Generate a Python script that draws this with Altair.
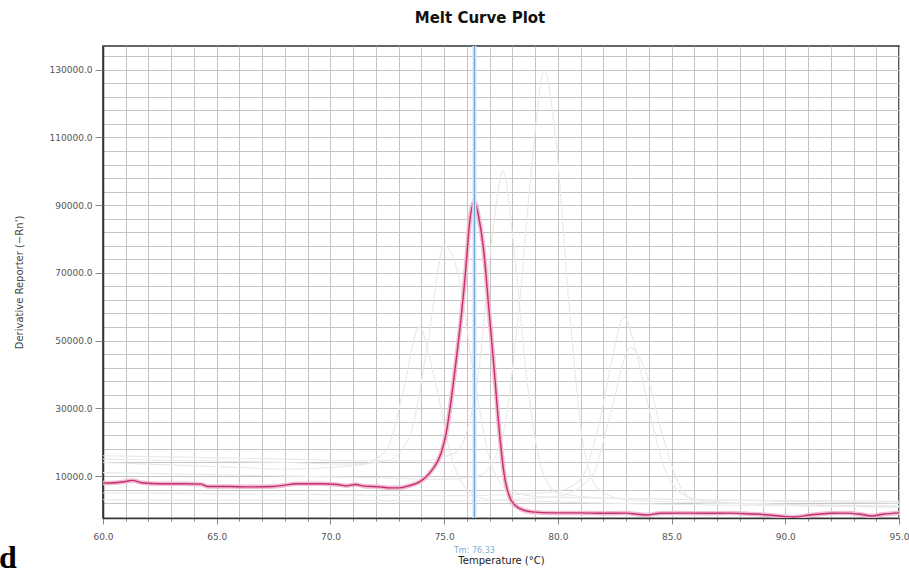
import altair as alt
import pandas as pd

# Selected well: derivative melt curve (temperature in °C, -Rn')
pink_temp = [60.0, 60.5, 61.0, 61.3, 61.7, 62.5, 63.5, 64.3, 64.6, 65.5, 66.5, 67.5, 68.0, 68.5,
             69.5, 70.3, 70.7, 71.1, 71.5, 72.15, 72.6, 73.03, 73.5, 73.9, 74.2, 74.47, 74.87,
             75.09, 75.31, 75.53, 75.75, 75.96, 76.1, 76.33, 76.54, 76.75, 76.97, 77.19, 77.41,
             77.63, 77.94, 78.29, 78.86, 79.74, 80.92, 82.0, 83.0, 83.5, 83.9, 84.5, 85.3, 86.5,
             87.6, 88.5, 89.25, 90.0, 90.4, 91.1, 92.0, 92.6, 93.3, 93.8, 94.3, 95.0]
pink_value = [7900, 8000, 8400, 8700, 8000, 7700, 7700, 7600, 6900, 6900, 6800, 6900, 7300, 7700,
              7700, 7500, 7100, 7500, 7000, 6800, 6500, 6500, 7200, 8200, 9700, 11800, 16800,
              22700, 32500, 44300, 57000, 71800, 83600, 91000, 85700, 75900, 59100, 42200, 24500,
              10900, 2900, 500, -600, -900, -900, -1000, -950, -1300, -1500, -1000, -950, -1000,
              -950, -1200, -1500, -2000, -2100, -1500, -1000, -950, -1300, -1800, -1300, -900]

# Other wells, drawn faintly behind the selected one
ghost_a_temp = [60, 62, 64, 66, 68, 70, 71.5, 72.5, 73.2, 73.9, 74.6, 75.3, 76, 77, 79, 82, 86, 90, 95]
ghost_a_value = [14000, 13500, 13000, 12500, 12000, 12500, 13500, 18000, 35000, 54000, 38000,
                 16000, 6000, 3000, 2500, 2000, 1500, 1200, 1000]

ghost_b_temp = [60, 64, 68, 72, 75, 76.5, 77.5, 78.3, 78.9, 79.4, 79.9, 80.5, 81.1, 81.8, 83, 87, 91, 95]
ghost_b_value = [11000, 10500, 10000, 9500, 9000, 10000, 20000, 60000, 105000, 130000, 110000,
                 60000, 20000, 6000, 3000, 2000, 1500, 1200]

ghost_c_temp = [60, 64, 68, 72, 74, 75.5, 76.5, 77.1, 77.6, 78.1, 78.7, 79.3, 80, 82, 86, 90, 95]
ghost_c_value = [16000, 15500, 15000, 14500, 14500, 17000, 40000, 80000, 100000, 75000, 35000,
                 12000, 5000, 3500, 3000, 2500, 2000]

ghost_d_temp = [60, 65, 70, 75, 78, 80, 81, 81.8, 82.4, 82.9, 83.4, 84, 84.7, 85.4, 86.5, 90, 95]
ghost_d_value = [5000, 4800, 4500, 4200, 4500, 5500, 9000, 25000, 45000, 57000, 48000, 30000,
                 12000, 5000, 2500, 1500, 1000]

ghost_e_temp = [60, 65, 70, 75, 78, 80, 81.5, 82.3, 83.2, 83.9, 84.6, 85.3, 86, 90, 95]
ghost_e_value = [3000, 2900, 2800, 2700, 3000, 4000, 10000, 28000, 48000, 40000, 22000, 8000,
                 3000, 1500, 800]

ghost_f_temp = [60, 64, 68, 71, 72.5, 73.5, 74.3, 75.0, 75.6, 76.3, 77, 77.8, 79, 82, 86, 90, 95]
ghost_f_value = [15000, 14500, 14000, 13500, 14500, 22000, 50000, 78000, 70000, 40000, 15000,
                 6000, 4000, 3500, 3000, 2800, 2500]

tm_value = 76.33

x_ticks = list(range(60, 96))
y_ticks = list(range(-2000, 136001, 4000))

pink = pd.DataFrame({"temp": pink_temp, "value": pink_value})
ghost_sets = {
    "A": (ghost_a_temp, ghost_a_value),
    "B": (ghost_b_temp, ghost_b_value),
    "C": (ghost_c_temp, ghost_c_value),
    "D": (ghost_d_temp, ghost_d_value),
    "E": (ghost_e_temp, ghost_e_value),
    "F": (ghost_f_temp, ghost_f_value),
}
ghosts = pd.concat(
    [pd.DataFrame({"well": k, "temp": t, "value": v}) for k, (t, v) in ghost_sets.items()],
    ignore_index=True,
)
tm = pd.DataFrame({"temp": [tm_value], "label": [f"Tm: {tm_value:.2f}"]})
corner = pd.DataFrame({"t": ["d"]})

FONT = "DejaVu Sans"

x_scale = alt.Scale(domain=[60, 95], nice=False, zero=False)
y_scale = alt.Scale(domain=[-2400, 137000], nice=False, zero=False)

x_axis = alt.Axis(
    values=x_ticks,
    tickCount=200,
    labelOverlap=False,
    labelExpr="datum.value % 5 === 0 ? format(datum.value, '.1f') : ''",
    title="Temperature (°C)",
    titleFont=FONT, titleFontSize=10, titleFontWeight="normal", titleColor="#222",
    titlePadding=14,
    labelFont=FONT, labelFontSize=9, labelColor="#555", labelPadding=8,
    tickSize={"condition": {"test": "datum.value % 5 === 0", "value": 6}, "value": 3},
    tickColor="#888",
    gridColor="#c4c4c4", gridWidth=1,
    domainColor="#333", domainWidth=1.5,
    labelFlush=False,
)
y_axis = alt.Axis(
    values=y_ticks,
    tickCount=200,
    labelOverlap=False,
    labelExpr="(datum.value - 10000) % 20000 === 0 ? format(datum.value, '.1f') : ''",
    title="Derivative Reporter (\u2212Rn')",
    titleFont=FONT, titleFontSize=10, titleFontWeight="normal", titleColor="#444",
    titlePadding=25,
    labelFont=FONT, labelFontSize=9, labelColor="#555", labelPadding=3,
    tickSize={"condition": {"test": "(datum.value - 10000) % 20000 === 0", "value": 8}, "value": 0},
    tickColor="#888",
    gridColor="#c4c4c4", gridWidth=1,
    domainColor="#333", domainWidth=1.5,
)

base_x = alt.X("temp:Q", scale=x_scale, axis=x_axis)
base_y = alt.Y("value:Q", scale=y_scale, axis=y_axis)

ghost_lines = alt.Chart(ghosts).mark_line(
    color="#e9e9e9", strokeWidth=1.1, interpolate="monotone", clip=True
).encode(x=base_x, y=base_y, detail="well:N")

pink_halo = alt.Chart(pink).mark_line(
    color="#f1bcd2", strokeWidth=4.5, interpolate="monotone", clip=True
).encode(x="temp:Q", y="value:Q")

pink_core = alt.Chart(pink).mark_line(
    color="#c42f6e", strokeWidth=1.4, interpolate="monotone", clip=True
).encode(x="temp:Q", y="value:Q")

tm_halo = alt.Chart(tm).mark_rule(color="#d4e4f4", strokeWidth=4).encode(x="temp:Q")
tm_rule = alt.Chart(tm).mark_rule(color="#5e9bd3", strokeWidth=1).encode(x="temp:Q")

tm_text = alt.Chart(tm).mark_text(
    font=FONT, fontSize=8, color="#86acd4", align="center", baseline="middle"
).encode(x="temp:Q", y=alt.value(505), text="label:N")

corner_text = alt.Chart(corner).mark_text(
    font="Liberation Serif", fontSize=32, fontWeight="bold", color="#000",
    align="left", baseline="alphabetic"
).encode(x=alt.value(-104), y=alt.value(522), text="t:N")

chart = alt.layer(
    ghost_lines, pink_halo, pink_core, tm_halo, tm_rule, tm_text, corner_text
).properties(
    width=796,
    height=472,
    autosize=alt.AutoSizeParams(type="none"),
    padding={"left": 103, "top": 46, "right": 10, "bottom": 58},
    title=alt.TitleParams(
        "Melt Curve Plot", font=FONT, fontSize=15, fontWeight="bold", color="#111",
        anchor="middle", dx=-21, offset=18,
    ),
    background="white",
).configure_view(
    stroke="#333", strokeWidth=1.6
)

chart.save("out.html", embed_options={"renderer": "svg", "actions": False})
